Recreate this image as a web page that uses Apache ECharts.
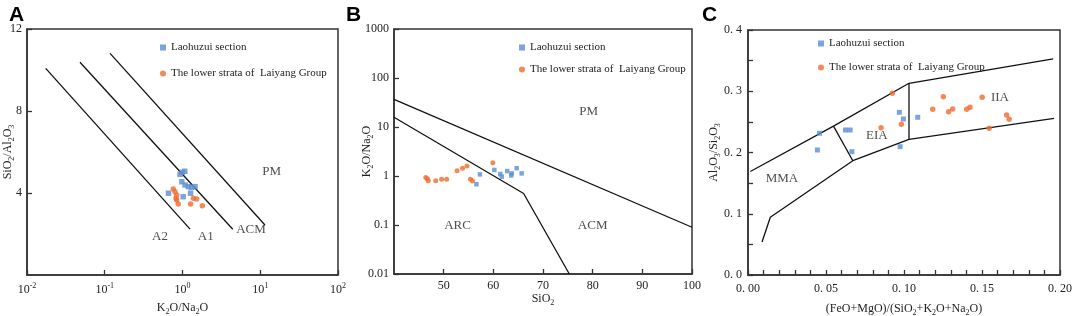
<!DOCTYPE html>
<html>
<head>
<meta charset="utf-8">
<script src="https://cdn.jsdelivr.net/npm/echarts@6/dist/echarts.min.js"></script>
<style>
  html, body { margin: 0; padding: 0; background: #fff; }
  #chart { width: 1072px; height: 316px; }
</style>
</head>
<body>
<div id="chart"></div>
<script>
// ---- data ----
// panel A : SiO2/Al2O3 vs K2O/Na2O (log x)
var aLaohuzui = [[0.93, 4.91], [0.99, 5.01], [1.07, 5.06], [0.98, 4.55], [1.08, 4.39], [1.19, 4.31],
                 [1.31, 4.28], [1.45, 4.31], [0.66, 3.99], [1.02, 3.82], [1.27, 3.99]];
var aLaiyang = [[0.76, 4.20], [0.80, 4.06], [0.84, 3.90], [0.825, 3.74], [0.84, 3.66], [0.88, 3.46],
                [1.27, 3.46], [1.38, 3.74], [1.52, 3.71], [1.80, 3.38]];
var aLineA2 = [[0.0174, 10.08], [1.25, 2.24]];
var aLineA1 = [[0.048, 10.38], [4.43, 2.23]];
var aLineACM = [[0.117, 10.81], [11.5, 2.44]];
var aFields = [['PM', 14.0, 5.04], ['A2', 0.514, 1.85], ['A1', 1.99, 1.85], ['ACM', 7.6, 2.24]];

// panel B : K2O/Na2O (log y) vs SiO2
var bLaohuzui = [[57.3, 1.08], [56.6, 0.68], [60.2, 1.33], [61.4, 1.10], [61.7, 0.97], [62.8, 1.26],
                 [63.7, 1.13], [63.6, 1.03], [64.7, 1.44], [65.7, 1.13]];
var bLaiyang = [[46.4, 0.93], [46.7, 0.88], [46.9, 0.80], [48.4, 0.80], [49.6, 0.86], [50.6, 0.86],
                [52.7, 1.28], [53.8, 1.44], [54.7, 1.60], [55.4, 0.86], [55.8, 0.79], [59.9, 1.87]];
var bLineUpper = [[40, 36.5], [100, 0.09]];
var bLineLower = [[40, 15.8], [66.1, 0.44], [75.3, 0.01]];
var bFields = [['PM', 79.2, 20.5], ['ARC', 52.8, 0.097], ['ACM', 80.0, 0.097]];
var bYTicks = [0.01, 0.1, 1, 10, 100, 1000];

// panel C : Al2O3/Si2O3 vs (FeO+MgO)/(SiO2+K2O+Na2O)
var cLaohuzui = [[0.0458, 0.2314], [0.0445, 0.2041], [0.0625, 0.2367], [0.0655, 0.2367], [0.0666, 0.2013],
                 [0.0970, 0.2656], [0.0996, 0.2547], [0.0975, 0.2095], [0.1088, 0.2575]];
var cLaiyang = [[0.0925, 0.2967], [0.0853, 0.2405], [0.0983, 0.2460], [0.1184, 0.2705], [0.1252, 0.2911],
                [0.1286, 0.2666], [0.1312, 0.2710], [0.1402, 0.2705], [0.1423, 0.2738], [0.1501, 0.2901],
                [0.1546, 0.2395], [0.1658, 0.2612], [0.1674, 0.2542]];
var cLineUpper = [[0.0015, 0.169], [0.0548, 0.243], [0.1032, 0.313], [0.1956, 0.3527]];
var cLineLower = [[0.009, 0.054], [0.0143, 0.0942], [0.0672, 0.1866], [0.1032, 0.2216], [0.1962, 0.2558]];
var cDivide1 = [[0.0548, 0.243], [0.0672, 0.1866]];
var cDivide2 = [[0.1032, 0.313], [0.1032, 0.2216]];
var cFields = [['MMA', 0.0218, 0.158], ['EIA', 0.0826, 0.227], ['IIA', 0.1615, 0.290]];

var nameBlue = 'Laohuzui section';
var nameOrange = 'The lower strata of  Laiyang Group';

// ---- styles ----
var FONT = 'Liberation Serif';
var BLUE = '#5b8dd3';
var ORANGE = '#f06c2e';
var INK = '#222';

var rich = {
    n: { fontFamily: FONT, fontSize: 12, color: INK, lineHeight: 16 },
    s: { fontFamily: FONT, fontSize: 8, color: INK, lineHeight: 8, verticalAlign: 'bottom' },
    p: { fontFamily: FONT, fontSize: 8, color: INK, lineHeight: 8, verticalAlign: 'top' }
};

function axisBase(extra) {
    var o = {
        axisLine: { show: true, lineStyle: { color: '#333', width: 1.5 } },
        axisTick: { show: true, inside: true, length: 5, lineStyle: { color: '#333', width: 1.3 } },
        axisLabel: { fontFamily: FONT, fontSize: 12, color: INK, rich: rich },
        splitLine: { show: false },
        nameLocation: 'middle',
        nameMoveOverlap: false,
        nameTextStyle: { fontFamily: FONT, fontSize: 12, color: INK, rich: rich }
    };
    for (var k in extra) o[k] = extra[k];
    return o;
}

function boundary(data, idx) {
    return {
        type: 'line', data: data, xAxisIndex: idx, yAxisIndex: idx,
        symbol: 'none', silent: true, animation: false,
        lineStyle: { color: '#111', width: 1.3 }
    };
}

function fieldText(list, idx) {
    return {
        type: 'scatter', xAxisIndex: idx, yAxisIndex: idx, symbolSize: 0, silent: true,
        data: list.map(function (f) { return { name: f[0], value: [f[1], f[2]] }; }),
        label: { show: true, position: 'inside', formatter: '{b}',
                 fontFamily: FONT, fontSize: 13, color: INK }
    };
}

function points(name, data, idx, shape, size, color) {
    return {
        type: 'scatter', name: name, data: data, xAxisIndex: idx, yAxisIndex: idx,
        symbol: shape, symbolSize: size, itemStyle: { color: color }, z: 5
    };
}

function legendAt(left, top, gap) {
    return {
        orient: 'vertical', left: left, top: top, itemGap: gap,
        itemWidth: 6, itemHeight: 6, selectedMode: false,
        textStyle: { fontFamily: FONT, fontSize: 11, color: INK },
        data: [{ name: nameBlue, icon: 'rect' }, { name: nameOrange, icon: 'circle' }]
    };
}

function grid(l, t, w, h) {
    return { left: l, top: t, width: w, height: h, outerBoundsMode: 'none',
             show: true, borderColor: '#333', borderWidth: 1.5 };
}

var chart = echarts.init(document.getElementById('chart'));
var option = {
    animation: false,
    title: [
        { text: 'A', left: 4, top: 0, textStyle: { fontFamily: 'Liberation Sans', fontWeight: 'bold', fontSize: 21, color: '#000' } },
        { text: 'B', left: 341, top: 0, textStyle: { fontFamily: 'Liberation Sans', fontWeight: 'bold', fontSize: 21, color: '#000' } },
        { text: 'C', left: 697, top: 0, textStyle: { fontFamily: 'Liberation Sans', fontWeight: 'bold', fontSize: 21, color: '#000' } }
    ],
    legend: [legendAt(155, 37, 15), legendAt(514, 37, 11), legendAt(813, 33, 13)],
    grid: [grid(27, 29, 311, 246), grid(394, 29, 298, 245), grid(748, 30, 312, 245)],
    xAxis: [
        axisBase({ gridIndex: 0, type: 'log', logBase: 10, min: 0.01, max: 100,
            name: '{n|K}{s|2}{n|O/Na}{s|2}{n|O}', nameGap: 25,
            axisLabel: { fontFamily: FONT, fontSize: 12, color: INK, rich: rich, margin: 7,
                formatter: function (v) { return '{n|10}{p|' + Math.round(Math.log10(v)) + '}'; } } }),
        axisBase({ gridIndex: 1, type: 'value', min: 40, max: 100, interval: 10,
            name: '{n|SiO}{s|2}', nameGap: 17,
            axisLabel: { fontFamily: FONT, fontSize: 12, color: INK, rich: rich, margin: 6, showMinLabel: false } }),
        axisBase({ gridIndex: 2, type: 'value', min: 0, max: 0.2, interval: 0.05,
            name: '{n|(FeO+MgO)/(SiO}{s|2}{n|+K}{s|2}{n|O+Na}{s|2}{n|O)}', nameGap: 26,
            minorTick: { show: true, splitNumber: 5, length: 5, lineStyle: { color: '#333', width: 1.3 } },
            axisLabel: { fontFamily: FONT, fontSize: 12, color: INK, margin: 8,
                formatter: function (v) { return v.toFixed(2).replace('.', '. '); } } })
    ],
    yAxis: [
        axisBase({ gridIndex: 0, type: 'value', min: 0, max: 12, interval: 4,
            name: '{n|SiO}{s|2}{n|/Al}{s|2}{n|O}{s|3}', nameGap: 11,
            axisLabel: { fontFamily: FONT, fontSize: 12, color: INK, margin: 5, showMinLabel: false } }),
        axisBase({ gridIndex: 1, type: 'log', logBase: 10, min: 0.01, max: 1000,
            name: '{n|K}{s|2}{n|O/Na}{s|2}{n|O}', nameGap: 19,
            axisLabel: { fontFamily: FONT, fontSize: 12, color: INK, margin: 5,
                formatter: function (v) {
                    var i = bYTicks.indexOf(v);
                    return i >= 0 ? String(bYTicks[i]) : String(+v.toPrecision(3));
                } } }),
        axisBase({ gridIndex: 2, type: 'value', min: 0, max: 0.4, interval: 0.1,
            name: '{n|Al}{s|2}{n|O}{s|3}{n|/Si}{s|2}{n|O}{s|3}', nameGap: 26,
            minorTick: { show: true, splitNumber: 2, length: 5, lineStyle: { color: '#333', width: 1.3 } },
            axisLabel: { fontFamily: FONT, fontSize: 12, color: INK, margin: 6,
                formatter: function (v) { return v.toFixed(1).replace('.', '. '); } } })
    ],
    series: [
        boundary(aLineA2, 0), boundary(aLineA1, 0), boundary(aLineACM, 0),
        fieldText(aFields, 0),
        points(nameBlue, aLaohuzui, 0, 'rect', 5.5, BLUE),
        points(nameOrange, aLaiyang, 0, 'circle', 5.5, ORANGE),

        boundary(bLineUpper, 1), boundary(bLineLower, 1),
        fieldText(bFields, 1),
        points(nameBlue, bLaohuzui, 1, 'rect', 4.5, BLUE),
        points(nameOrange, bLaiyang, 1, 'circle', 5, ORANGE),

        boundary(cLineUpper, 2), boundary(cLineLower, 2), boundary(cDivide1, 2), boundary(cDivide2, 2),
        fieldText(cFields, 2),
        points(nameBlue, cLaohuzui, 2, 'rect', 5, BLUE),
        points(nameOrange, cLaiyang, 2, 'circle', 5.5, ORANGE)
    ]
};
chart.setOption(option);
</script>
</body>
</html>
